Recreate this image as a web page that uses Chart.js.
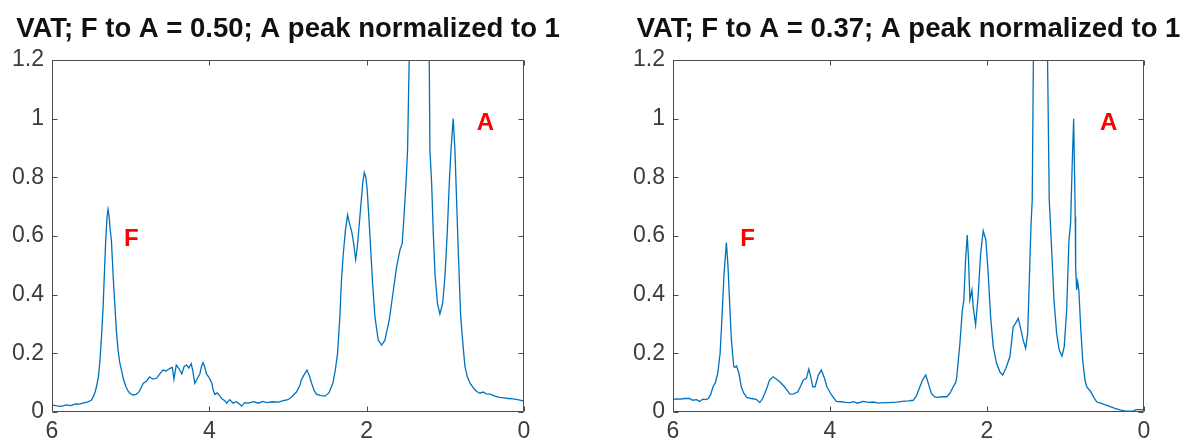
<!DOCTYPE html>
<html>
<head>
<meta charset="utf-8">
<script src="https://cdn.jsdelivr.net/npm/chart.js@4"></script>
<style>
  html, body { margin: 0; padding: 0; background: #fff; overflow: hidden; }
  #wrap { position: relative; width: 1188px; height: 442px; overflow: hidden; }
  canvas { position: absolute; top: 0; }
</style>
</head>
<body>
<div id="wrap">
  <canvas id="leftChart" width="576" height="442" style="left:0"></canvas>
  <canvas id="rightChart" width="575" height="442" style="left:621px"></canvas>
</div>
<script>
// chemical shift (ppm) and normalized signal
const leftShift = [6.00, 5.94, 5.88, 5.82, 5.76, 5.70, 5.65, 5.60, 5.55, 5.50, 5.47, 5.45, 5.435, 5.41, 5.39, 5.37, 5.35, 5.33, 5.317, 5.30, 5.288, 5.275, 5.26, 5.245, 5.22, 5.20, 5.18, 5.16, 5.14, 5.117, 5.09, 5.06, 5.03, 5.01, 4.97, 4.93, 4.89, 4.84, 4.80, 4.76, 4.72, 4.67, 4.63, 4.59, 4.55, 4.50, 4.47, 4.45, 4.42, 4.39, 4.35, 4.32, 4.29, 4.26, 4.23, 4.21, 4.185, 4.16, 4.12, 4.10, 4.08, 4.06, 4.036, 4.01, 3.97, 3.95, 3.93, 3.90, 3.87, 3.84, 3.80, 3.78, 3.74, 3.70, 3.66, 3.62, 3.59, 3.55, 3.50, 3.44, 3.38, 3.32, 3.27, 3.20, 3.12, 3.06, 3.00, 2.95, 2.93, 2.89, 2.85, 2.83, 2.80, 2.76, 2.73, 2.70, 2.67, 2.64, 2.58, 2.53, 2.48, 2.43, 2.40, 2.37, 2.34, 2.32, 2.30, 2.27, 2.243, 2.22, 2.19, 2.165, 2.14, 2.12, 2.086, 2.05, 2.03, 2.01, 1.993, 1.96, 1.925, 1.895, 1.853, 1.81, 1.768, 1.713, 1.66, 1.62, 1.577, 1.548, 1.526, 1.50, 1.48, 1.44, 1.40, 1.33, 1.26, 1.21, 1.196, 1.174, 1.153, 1.132, 1.10, 1.069, 1.034, 1.005, 0.976, 0.95, 0.928, 0.90, 0.878, 0.836, 0.805, 0.77, 0.75, 0.72, 0.686, 0.65, 0.62, 0.60, 0.56, 0.52, 0.48, 0.43, 0.38, 0.31, 0.25, 0.20, 0.14, 0.08, 0.04, 0.01, 0];
const leftSignal = [0.024, 0.021, 0.019, 0.024, 0.022, 0.028, 0.027, 0.031, 0.034, 0.040, 0.055, 0.070, 0.086, 0.12, 0.177, 0.26, 0.36, 0.50, 0.586, 0.665, 0.691, 0.67, 0.62, 0.586, 0.45, 0.36, 0.27, 0.211, 0.17, 0.143, 0.11, 0.086, 0.07, 0.064, 0.058, 0.060, 0.070, 0.098, 0.105, 0.120, 0.112, 0.115, 0.130, 0.143, 0.140, 0.149, 0.152, 0.112, 0.160, 0.150, 0.130, 0.155, 0.160, 0.150, 0.165, 0.140, 0.098, 0.110, 0.130, 0.155, 0.168, 0.155, 0.130, 0.120, 0.100, 0.075, 0.060, 0.065, 0.056, 0.045, 0.038, 0.030, 0.042, 0.030, 0.035, 0.028, 0.020, 0.032, 0.030, 0.035, 0.030, 0.036, 0.032, 0.035, 0.034, 0.039, 0.042, 0.052, 0.058, 0.069, 0.09, 0.109, 0.125, 0.143, 0.125, 0.098, 0.075, 0.061, 0.056, 0.054, 0.065, 0.098, 0.14, 0.20, 0.33, 0.45, 0.53, 0.62, 0.672, 0.645, 0.615, 0.575, 0.52, 0.56, 0.666, 0.78, 0.816, 0.80, 0.757, 0.609, 0.44, 0.325, 0.245, 0.228, 0.245, 0.314, 0.416, 0.495, 0.552, 0.575, 0.666, 0.78, 0.893, 1.5, 2.0, 2.3, 2.0, 1.4, 0.893, 0.78, 0.609, 0.473, 0.37, 0.334, 0.37, 0.461, 0.609, 0.78, 0.893, 1.0, 0.893, 0.552, 0.325, 0.211, 0.155, 0.12, 0.098, 0.085, 0.075, 0.07, 0.064, 0.068, 0.062, 0.061, 0.055, 0.05, 0.048, 0.046, 0.045, 0.042, 0.040, 0.038, 0.036];

const rightShift = [6.00, 5.95, 5.90, 5.85, 5.79, 5.75, 5.70, 5.66, 5.62, 5.58, 5.55, 5.52, 5.49, 5.46, 5.43, 5.40, 5.38, 5.35, 5.32, 5.30, 5.286, 5.256, 5.226, 5.21, 5.19, 5.16, 5.13, 5.10, 5.06, 5.00, 4.94, 4.895, 4.86, 4.83, 4.80, 4.77, 4.725, 4.68, 4.64, 4.58, 4.51, 4.46, 4.41, 4.37, 4.34, 4.30, 4.27, 4.245, 4.22, 4.19, 4.15, 4.11, 4.07, 4.04, 3.98, 3.92, 3.86, 3.80, 3.75, 3.70, 3.65, 3.58, 3.50, 3.45, 3.38, 3.32, 3.25, 3.15, 3.08, 3.00, 2.94, 2.90, 2.855, 2.82, 2.78, 2.75, 2.71, 2.67, 2.64, 2.57, 2.51, 2.47, 2.43, 2.40, 2.387, 2.345, 2.316, 2.295, 2.273, 2.252, 2.235, 2.218, 2.192, 2.176, 2.145, 2.112, 2.081, 2.048, 2.014, 1.985, 1.954, 1.921, 1.878, 1.836, 1.801, 1.759, 1.708, 1.666, 1.636, 1.602, 1.572, 1.539, 1.508, 1.482, 1.462, 1.44, 1.424, 1.40, 1.37, 1.32, 1.27, 1.24, 1.207, 1.176, 1.147, 1.113, 1.08, 1.045, 1.016, 0.985, 0.956, 0.935, 0.914, 0.896, 0.876, 0.871, 0.858, 0.845, 0.83, 0.807, 0.781, 0.752, 0.73, 0.68, 0.64, 0.60, 0.55, 0.50, 0.43, 0.37, 0.306, 0.25, 0.20, 0.136, 0.10, 0.05, 0.01, 0];
const rightSignal = [0.043, 0.045, 0.044, 0.046, 0.046, 0.040, 0.042, 0.036, 0.044, 0.042, 0.046, 0.060, 0.086, 0.100, 0.132, 0.20, 0.30, 0.47, 0.578, 0.50, 0.416, 0.245, 0.155, 0.152, 0.157, 0.132, 0.086, 0.065, 0.050, 0.046, 0.043, 0.032, 0.045, 0.064, 0.085, 0.109, 0.120, 0.112, 0.103, 0.086, 0.061, 0.062, 0.069, 0.090, 0.109, 0.115, 0.146, 0.120, 0.086, 0.086, 0.125, 0.143, 0.115, 0.086, 0.058, 0.036, 0.035, 0.033, 0.032, 0.035, 0.030, 0.036, 0.033, 0.034, 0.030, 0.032, 0.032, 0.034, 0.036, 0.038, 0.040, 0.055, 0.086, 0.110, 0.126, 0.100, 0.064, 0.052, 0.050, 0.052, 0.052, 0.065, 0.086, 0.100, 0.115, 0.234, 0.342, 0.382, 0.518, 0.603, 0.518, 0.382, 0.416, 0.359, 0.297, 0.398, 0.541, 0.618, 0.586, 0.473, 0.325, 0.223, 0.166, 0.137, 0.126, 0.149, 0.189, 0.291, 0.302, 0.319, 0.285, 0.245, 0.217, 0.268, 0.439, 0.632, 0.723, 1.5, 2.2, 2.5, 2.2, 1.45, 0.723, 0.552, 0.382, 0.268, 0.211, 0.191, 0.223, 0.348, 0.586, 0.643, 0.85, 1.0, 0.666, 0.495, 0.416, 0.444, 0.416, 0.291, 0.177, 0.109, 0.086, 0.070, 0.050, 0.034, 0.030, 0.025, 0.018, 0.012, 0.007, 0.004, 0.003, 0.004, 0.008, 0.008, 0.007, 0.010];

const fToA = ['0.50', '0.37'];
const leftLabels = [{ text: 'F', x: 4.99, y: 0.59 }, { text: 'A', x: 0.49, y: 0.985 }];
const rightLabels = [{ text: 'F', x: 5.05, y: 0.588 }, { text: 'A', x: 0.45, y: 0.985 }];

const FONT = '"Liberation Sans", Arial, Helvetica, sans-serif';

// MATLAB-like box with inward ticks, plus the red peak letters
const matlabAxes = {
  id: 'matlabAxes',
  afterDraw(chart, args, opts) {
    const { ctx, chartArea: a, scales } = chart;
    const L = Math.round(a.left) + 0.5, R = Math.round(a.right) - 0.5;
    const T = Math.round(a.top) + 0.5, B = Math.round(a.bottom) - 0.5;
    ctx.save();
    ctx.strokeStyle = '#4d4d4d';
    ctx.lineWidth = 1;
    ctx.beginPath();
    ctx.rect(L, T, R - L, B - T);
    scales.x.ticks.forEach(t => {
      const px = Math.round(scales.x.getPixelForValue(t.value)) + 0.5;
      ctx.moveTo(px, B); ctx.lineTo(px, B - 5);
      ctx.moveTo(px, T); ctx.lineTo(px, T + 5);
    });
    scales.y.ticks.forEach(t => {
      const py = Math.round(scales.y.getPixelForValue(t.value)) + 0.5;
      ctx.moveTo(L, py); ctx.lineTo(L + 5, py);
      ctx.moveTo(R, py); ctx.lineTo(R - 5, py);
    });
    ctx.stroke();

    ctx.fillStyle = '#ff0000';
    ctx.font = 'bold 24px ' + FONT;
    ctx.textAlign = 'center';
    ctx.textBaseline = 'middle';
    (opts.labels || []).forEach(l => {
      ctx.fillText(l.text, scales.x.getPixelForValue(l.x), scales.y.getPixelForValue(l.y));
    });
    ctx.restore();
  }
};

function makeChart(id, ratio, xs, ys, labels) {
  const pts = xs.map((x, i) => ({ x: x, y: ys[i] }));
  return new Chart(document.getElementById(id).getContext('2d'), {
    type: 'line',
    data: {
      datasets: [{
        data: pts,
        borderColor: '#0072BD',
        borderWidth: 1.3,
        pointRadius: 0,
        tension: 0,
        fill: false,
        clip: 0
      }]
    },
    options: {
      responsive: false,
      animation: false,
      layout: { padding: 0 },
      scales: {
        x: {
          type: 'linear',
          reverse: true,
          min: 0,
          max: 6,
          grid: { display: false, drawTicks: false },
          border: { display: false },
          ticks: { stepSize: 2, color: '#3c3c3c', padding: 6, font: { family: FONT, size: 23 } },
          afterFit: s => { s.height = 30; }
        },
        y: {
          min: 0,
          max: 1.2,
          grid: { display: false, drawTicks: false },
          border: { display: false },
          ticks: {
            stepSize: 0.2, color: '#3c3c3c', padding: 8, font: { family: FONT, size: 23 },
            callback: v => String(Math.round(v * 10) / 10)
          },
          afterFit: s => { s.width = 52; }
        },
        // empty right axis, only so the title centres over the plot box
        yRight: {
          position: 'right',
          grid: { display: false, drawTicks: false },
          border: { display: false },
          ticks: { display: false },
          afterFit: s => { s.width = 52; }
        }
      },
      plugins: {
        legend: { display: false },
        tooltip: { enabled: false },
        title: {
          display: true,
          text: 'VAT; F to A = ' + ratio + '; A peak normalized to 1',
          color: '#111',
          font: { family: FONT, size: 27.5, weight: 'bold', lineHeight: 1.2 },
          padding: { top: 13, bottom: 14 }
        },
        matlabAxes: { labels: labels }
      }
    },
    plugins: [matlabAxes]
  });
}

makeChart('leftChart', fToA[0], leftShift, leftSignal, leftLabels);
makeChart('rightChart', fToA[1], rightShift, rightSignal, rightLabels);
</script>
</body>
</html>
